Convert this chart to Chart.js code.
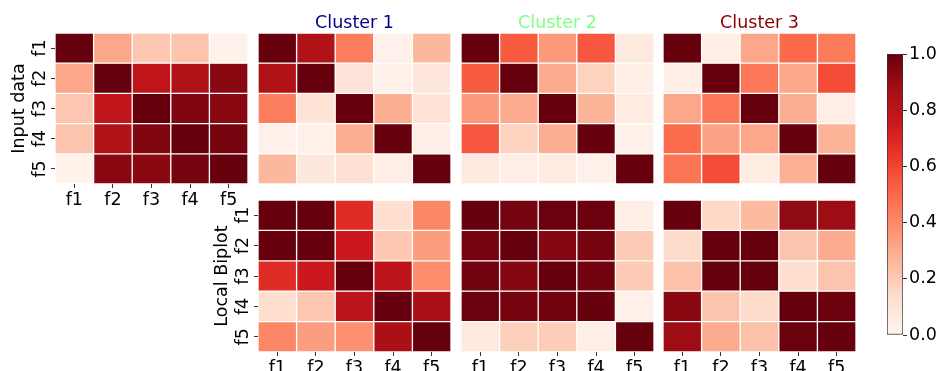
<!DOCTYPE html>
<html>
<head>
<meta charset="utf-8">
<script src="https://cdn.jsdelivr.net/npm/chart.js@4.4.1/dist/chart.umd.min.js"></script>
<style>
  html, body { margin: 0; padding: 0; background: #fff; }
  #fig { position: relative; width: 941px; height: 371px; overflow: hidden; }
  #fig canvas { position: absolute; }
</style>
</head>
<body>
<div id="fig"></div>
<script>
// feature labels + correlation-like matrices
const features = ['f1', 'f2', 'f3', 'f4', 'f5'];

const inputData = [
  [1.00, 0.31, 0.21, 0.22, 0.02],
  [0.31, 1.00, 0.79, 0.84, 0.93],
  [0.21, 0.79, 1.00, 0.95, 0.93],
  [0.22, 0.84, 0.95, 1.00, 0.97],
  [0.02, 0.93, 0.93, 0.97, 1.00]
];

const cluster1 = [
  [1.00, 0.84, 0.44, 0.03, 0.26],
  [0.84, 1.00, 0.10, 0.03, 0.09],
  [0.44, 0.11, 1.00, 0.29, 0.11],
  [0.03, 0.03, 0.29, 1.00, 0.04],
  [0.26, 0.08, 0.12, 0.04, 1.00]
];
const cluster2 = [
  [1.00, 0.54, 0.35, 0.55, 0.07],
  [0.54, 1.00, 0.30, 0.17, 0.04],
  [0.35, 0.30, 1.00, 0.27, 0.06],
  [0.55, 0.17, 0.29, 1.00, 0.03],
  [0.07, 0.04, 0.06, 0.03, 1.00]
];
const cluster3 = [
  [1.00, 0.04, 0.31, 0.50, 0.45],
  [0.04, 1.00, 0.46, 0.31, 0.58],
  [0.31, 0.46, 1.00, 0.29, 0.04],
  [0.49, 0.33, 0.31, 1.00, 0.27],
  [0.47, 0.58, 0.05, 0.28, 1.00]
];

const biplot1 = [
  [1.00, 1.00, 0.68, 0.13, 0.41],
  [1.00, 1.00, 0.75, 0.21, 0.34],
  [0.68, 0.75, 1.00, 0.80, 0.39],
  [0.13, 0.21, 0.80, 1.00, 0.86],
  [0.41, 0.34, 0.38, 0.86, 1.00]
];
const biplot2 = [
  [1.00, 0.97, 0.99, 0.99, 0.04],
  [0.97, 1.00, 0.94, 0.97, 0.20],
  [0.98, 0.94, 1.00, 0.98, 0.20],
  [0.99, 0.97, 0.98, 1.00, 0.03],
  [0.07, 0.18, 0.19, 0.04, 1.00]
];
const biplot3 = [
  [1.00, 0.15, 0.25, 0.92, 0.89],
  [0.14, 1.00, 1.00, 0.22, 0.30],
  [0.23, 1.00, 1.00, 0.13, 0.22],
  [0.93, 0.22, 0.14, 1.00, 0.99],
  [0.89, 0.30, 0.23, 0.99, 1.00]
];

const clusterTitles = ['Cluster 1', 'Cluster 2', 'Cluster 3'];
const cbarTicks = [0, 0.2, 0.4, 0.6, 0.8, 1.0];

// matplotlib "Reds" colormap stops
const reds = ['#fff5f0', '#fee0d2', '#fcbba1', '#fc9272', '#fb6a4a', '#ef3b2c', '#cb181d', '#a50f15', '#67000d'];

function hexToRgb(h) {
  return [1, 3, 5].map(i => parseInt(h.slice(i, i + 2), 16));
}
function redsColor(v) {
  v = Math.max(0, Math.min(1, v));
  const pos = v * (reds.length - 1);
  const i = Math.min(Math.floor(pos), reds.length - 2);
  const t = pos - i;
  const a = hexToRgb(reds[i]), b = hexToRgb(reds[i + 1]);
  const c = a.map((x, k) => Math.round(x + (b[k] - x) * t));
  return `rgb(${c[0]},${c[1]},${c[2]})`;
}

Chart.defaults.font.family = "'DejaVu Sans', sans-serif";
Chart.defaults.font.size = 17.5;
Chart.defaults.color = '#000';

const FONT = 17.5;
const fig = document.getElementById('fig');

function makeCanvas(left, top, w, h) {
  const cv = document.createElement('canvas');
  cv.width = w;
  cv.height = h;
  cv.style.left = left + 'px';
  cv.style.top = top + 'px';
  fig.appendChild(cv);
  return cv;
}

// o = chart area box + which decorations the panel gets
function heatmap(matrix, o) {
  const L = o.yTitle ? 55 : 0;
  const T = o.title ? 22 : 0;
  const B = o.xTicks ? 25 : 0;
  const cv = makeCanvas(o.x - L, o.y - T, o.w + L, o.h + T + B);

  new Chart(cv, {
    type: 'bar',
    data: {
      labels: features,
      datasets: matrix.map((row, i) => ({
        data: row.map(() => [i, i + 1]),
        backgroundColor: row.map(redsColor),
        borderColor: '#fff',
        borderWidth: 1,
        borderSkipped: false,
        barPercentage: 1,
        categoryPercentage: 1
      }))
    },
    options: {
      responsive: false,
      animation: false,
      events: [],
      layout: { padding: 0 },
      plugins: {
        legend: { display: false },
        tooltip: { enabled: false },
        title: {
          display: !!o.title,
          text: o.title || '',
          color: o.titleColor,
          font: { size: FONT, lineHeight: 1, weight: 'normal' },
          padding: { top: 4, bottom: 0.5 }
        }
      },
      scales: {
        x: {
          stacked: true,
          display: !!o.xTicks,
          grid: { drawOnChartArea: false, offset: false, tickLength: 4, color: '#333' },
          border: { display: false },
          ticks: { padding: 2, maxRotation: 0 },
          afterFit: s => { s.height = B; s.paddingLeft = 0; s.paddingRight = 0; }
        },
        y: {
          type: 'linear',
          min: 0,
          max: 5,
          reverse: true,
          display: !!o.yTitle,
          grid: { drawOnChartArea: false, tickLength: 4, color: '#333' },
          border: { display: false },
          afterBuildTicks: s => { s.ticks = features.map((f, i) => ({ value: i + 0.5 })); },
          ticks: {
            padding: 2,
            minRotation: 90,
            maxRotation: 90,
            crossAlign: 'center',
            callback: v => features[Math.floor(v)]
          },
          title: {
            display: !!o.yTitle,
            text: o.yTitle || '',
            font: { size: FONT, lineHeight: 1 },
            padding: { top: 11, bottom: 0 }
          },
          afterFit: s => { s.width = L; s.paddingTop = 0; s.paddingBottom = 0; }
        }
      }
    }
  });
}

const colX = [55, 258, 461, 663];
const cellW = 193;
const topY = 33, topH = 151;
const botY = 200, botH = 152;
const titleColors = ['#00008b', '#80ff80', '#8b0000'];

heatmap(inputData, { x: colX[0], y: topY, w: cellW, h: topH, yTitle: 'Input data', xTicks: true });
[cluster1, cluster2, cluster3].forEach((m, k) => {
  heatmap(m, { x: colX[k + 1], y: topY, w: cellW, h: topH, title: clusterTitles[k], titleColor: titleColors[k] });
});
[biplot1, biplot2, biplot3].forEach((m, k) => {
  heatmap(m, { x: colX[k + 1], y: botY, w: cellW, h: botH, xTicks: true, yTitle: k === 0 ? 'Local Biplot' : null });
});

// colorbar
const cbCanvas = makeCanvas(887, 40, 54, 310);
new Chart(cbCanvas, {
  type: 'bar',
  data: {
    labels: [''],
    datasets: [{
      data: [[0, 1]],
      backgroundColor: ctx => {
        const area = ctx.chart.chartArea;
        if (!area) return reds[4];
        const g = ctx.chart.ctx.createLinearGradient(0, area.bottom, 0, area.top);
        reds.forEach((c, i) => g.addColorStop(i / (reds.length - 1), c));
        return g;
      },
      borderColor: '#333',
      borderWidth: 1,
      borderSkipped: false,
      barPercentage: 1,
      categoryPercentage: 1
    }]
  },
  options: {
    responsive: false,
    animation: false,
    events: [],
    layout: { padding: { top: 14, bottom: 15 } },
    plugins: { legend: { display: false }, tooltip: { enabled: false } },
    scales: {
      x: { display: false },
      y: {
        position: 'right',
        min: 0,
        max: 1,
        afterBuildTicks: s => { s.ticks = cbarTicks.map(v => ({ value: v })); },
        ticks: { padding: 2, callback: v => v.toFixed(1) },
        grid: { drawOnChartArea: false, tickLength: 4, color: '#333' },
        border: { display: false },
        afterFit: s => { s.width = 38; }
      }
    }
  }
});
</script>
</body>
</html>
